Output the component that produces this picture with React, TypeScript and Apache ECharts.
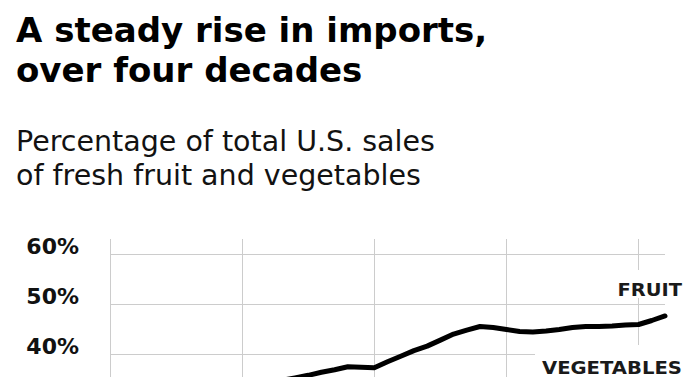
import React, { useEffect, useRef } from "react";
import * as echarts from "echarts";

const years = [
  1975, 1976, 1977, 1978, 1979, 1980, 1981, 1982, 1983, 1984,
  1985, 1986, 1987, 1988, 1989, 1990, 1991, 1992, 1993, 1994,
  1995, 1996, 1997, 1998, 1999, 2000, 2001, 2002, 2003, 2004,
  2005, 2006, 2007, 2008, 2009, 2010, 2011, 2012, 2013, 2014,
  2015, 2016, 2017,
];

const fruitShare = [
  24.0, 24.6, 25.3, 26.1, 26.8, 27.7, 28.9, 30.2, 31.5, 32.7,
  33.4, 33.9, 34.4, 34.9, 35.4, 35.9, 36.5, 37.0, 37.6, 37.5,
  37.4, 38.6, 39.7, 40.8, 41.7, 42.9, 44.1, 44.9, 45.6, 45.4,
  45.0, 44.6, 44.5, 44.7, 45.0, 45.4, 45.6, 45.6, 45.7, 45.9,
  46.0, 46.8, 47.7,
];

const vegetableShare = [
  8.0, 8.5, 9.0, 9.5, 10.0, 10.5, 11.0, 11.0, 11.5, 12.0,
  12.5, 13.0, 13.5, 13.5, 14.0, 14.0, 14.5, 15.0, 15.5, 16.0,
  17.0, 17.5, 18.0, 19.0, 19.5, 20.0, 21.0, 21.5, 22.0, 22.5,
  23.0, 24.0, 24.5, 25.0, 25.5, 26.5, 27.5, 28.5, 30.0, 31.0,
  32.0, 33.0, 34.3,
];

const yTicks = [30, 40, 50, 60];
const seriesNames = ["FRUIT", "VEGETABLES"];
const titleLines = "A steady rise in imports,\nover four decades";
const subtitleLines = "Percentage of total U.S. sales\nof fresh fruit and vegetables";

export default function App() {
  const ref = useRef<HTMLDivElement>(null);

  useEffect(() => {
    if (!ref.current) return;
    const chart = echarts.init(ref.current, null, { renderer: "svg" });
    const pairs = (vals: number[]) => years.map((y, i) => [y, vals[i]]);
    const lineStyle = { color: "#000", width: 5, cap: "round", join: "round" };
    const labelFont = "bold 18px 'DejaVu Sans'";
    chart.setOption({
      animation: false,
      backgroundColor: "#fff",
      title: [
        {
          text: titleLines,
          left: 16,
          top: 10,
          padding: 0,
          textStyle: {
            fontFamily: "DejaVu Sans",
            fontWeight: "bold",
            fontSize: 34,
            lineHeight: 40,
            color: "#000",
          },
        },
        {
          text: subtitleLines,
          left: 16,
          top: 124,
          padding: 0,
          textStyle: {
            fontFamily: "DejaVu Sans",
            fontWeight: "normal",
            fontSize: 28.5,
            lineHeight: 34,
            color: "#121212",
          },
        },
      ],
      grid: {
        left: 110,
        top: 239,
        width: 555,
        height: 166,
        containLabel: false,
        outerBoundsMode: "none",
      },
      xAxis: {
        type: "value",
        min: years[0],
        max: years[years.length - 1],
        interval: 10,
        axisLine: { show: false },
        axisTick: { show: false },
        axisLabel: { show: false },
        splitLine: {
          show: true,
          showMaxLine: false,
          lineStyle: { color: "#cccccc", width: 1 },
        },
      },
      yAxis: {
        type: "value",
        min: yTicks[0],
        max: 63,
        interval: 10,
        axisLine: { show: false },
        axisTick: { show: false },
        axisLabel: {
          formatter: "{value}%",
          showMaxLabel: false,
          margin: 31,
          fontFamily: "DejaVu Sans",
          fontWeight: "bold",
          fontSize: 22,
          lineHeight: 16,
          color: "#111",
          verticalAlign: "bottom",
        },
        splitLine: {
          show: true,
          showMaxLine: false,
          lineStyle: { color: "#cccccc", width: 1 },
        },
      },
      graphic: [
        { type: "rect", z: 1, shape: { x: 612, y: 270, width: 84, height: 28 }, style: { fill: "#fff" } },
        { type: "rect", z: 1, shape: { x: 535, y: 345, width: 161, height: 34 }, style: { fill: "#fff" } },
        {
          type: "text",
          z: 5,
          x: 682,
          y: 290,
          scaleX: 1.08,
          style: {
            text: seriesNames[0],
            align: "right",
            verticalAlign: "middle",
            fill: "#1a1a1a",
            font: labelFont,
          },
        },
        {
          type: "text",
          z: 5,
          x: 682,
          y: 368,
          scaleX: 1.09,
          style: {
            text: seriesNames[1],
            align: "right",
            verticalAlign: "middle",
            fill: "#1a1a1a",
            font: labelFont,
          },
        },
      ],
      series: [
        {
          name: seriesNames[0],
          type: "line",
          data: pairs(fruitShare),
          showSymbol: false,
          clip: false,
          lineStyle,
          z: 3,
        },
        {
          name: seriesNames[1],
          type: "line",
          data: pairs(vegetableShare),
          showSymbol: false,
          clip: false,
          lineStyle,
          z: 3,
        },
      ],
    });
    return () => chart.dispose();
  }, []);

  return <div ref={ref} style={{ width: 696, height: 385, margin: -8 }} />;
}
